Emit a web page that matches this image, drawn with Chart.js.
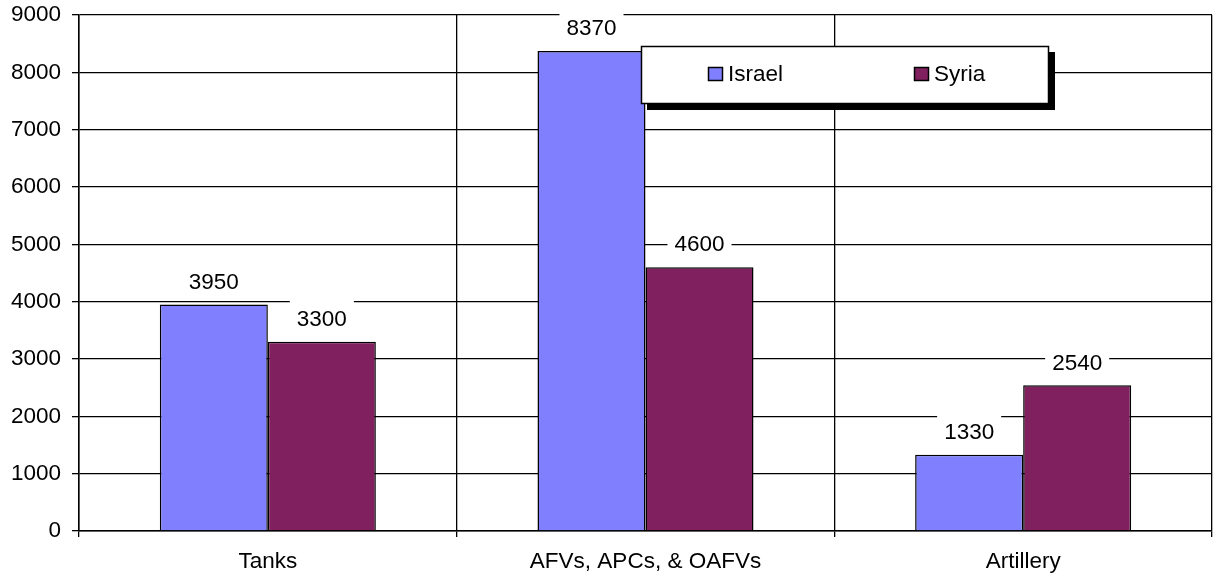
<!DOCTYPE html>
<html>
<head>
<meta charset="utf-8">
<script src="https://cdn.jsdelivr.net/npm/chart.js@4.4.0/dist/chart.umd.min.js"></script>
<style>
  html, body { margin: 0; padding: 0; background: #fff; }
  #wrap { width: 1213px; height: 575px; }
</style>
</head>
<body>
<div id="wrap"><canvas id="equipChart" width="1213" height="575"></canvas></div>
<script>
// 装備数の比較データ
const categories = ['Tanks', 'AFVs, APCs, & OAFVs', 'Artillery'];
const seriesNames = ['Israel', 'Syria'];
const israelValues = [3950, 8370, 1330];
const syriaValues = [3300, 4600, 2540];
const yTicks = [0, 1000, 2000, 3000, 4000, 5000, 6000, 7000, 8000, 9000];

const seriesColors = ['#8080ff', '#80205f'];
const FONT = '"Liberation Sans", Arial, sans-serif';
const FONT_SIZE = 22.5;

Chart.defaults.font.family = FONT;
Chart.defaults.font.size = FONT_SIZE;
Chart.defaults.color = '#000';

// 棒の上に値ラベルを描く（白い背景でグリッド線を隠す）
const valueLabelPlugin = {
  id: 'valueLabels',
  afterDatasetsDraw(chart) {
    const ctx = chart.ctx;
    ctx.save();
    ctx.font = FONT_SIZE + 'px ' + FONT;
    ctx.textAlign = 'center';
    ctx.textBaseline = 'middle';
    chart.data.datasets.forEach((ds, i) => {
      chart.getDatasetMeta(i).data.forEach((bar, j) => {
        const text = String(ds.data[j]);
        const w = ctx.measureText(text).width + 14;
        const cy = bar.y - 23;
        ctx.fillStyle = '#fff';
        ctx.fillRect(bar.x - w / 2, cy - 18, w, 31);
        ctx.fillStyle = '#000';
        ctx.fillText(text, bar.x, cy + 1);
      });
    });
    ctx.restore();
  }
};

// 影付きの凡例ボックス
const legendBoxPlugin = {
  id: 'legendBox',
  afterDraw(chart) {
    const ctx = chart.ctx;
    const x = 641, y = 46, w = 408, h = 58;
    ctx.save();
    ctx.fillStyle = '#000';
    ctx.fillRect(x + 6, y + 6, w, h);
    ctx.fillStyle = '#fff';
    ctx.fillRect(x, y, w, h);
    ctx.strokeStyle = '#000';
    ctx.lineWidth = 1.5;
    ctx.strokeRect(x + 0.5, y + 0.5, w - 1, h - 1);

    ctx.font = FONT_SIZE + 'px ' + FONT;
    ctx.textAlign = 'left';
    ctx.textBaseline = 'middle';
    const itemX = [x + 67, x + 273];
    chart.data.datasets.forEach((ds, i) => {
      const bx = itemX[i];
      ctx.fillStyle = ds.backgroundColor;
      ctx.fillRect(bx, y + 21, 15, 14);
      ctx.strokeStyle = '#000';
      ctx.strokeRect(bx + 0.5, y + 21.5, 14, 13);
      ctx.fillStyle = '#000';
      ctx.fillText(ds.label, bx + 20, y + 29);
    });
    ctx.restore();
  }
};

function drawChart() {
  const ctx = document.getElementById('equipChart').getContext('2d');
  new Chart(ctx, {
    type: 'bar',
    data: {
      labels: categories,
      datasets: [
        {
          label: seriesNames[0],
          data: israelValues,
          backgroundColor: seriesColors[0],
          borderColor: '#000',
          borderWidth: 1.5,
        },
        {
          label: seriesNames[1],
          data: syriaValues,
          backgroundColor: seriesColors[1],
          borderColor: '#000',
          borderWidth: 1.5,
        },
      ],
    },
    options: {
      responsive: false,
      animation: false,
      devicePixelRatio: 1,
      layout: { padding: { top: 15, right: 1, left: 0, bottom: 0 } },
      datasets: {
        bar: { categoryPercentage: 0.572, barPercentage: 1 },
      },
      plugins: {
        legend: { display: false },
        tooltip: { enabled: false },
      },
      scales: {
        x: {
          grid: {
            offset: true,
            color: (c) => (c.index === categories.length ? '#d0d0d0' : '#000'),
            lineWidth: 1.3,
            tickLength: 6,
          },
          border: { color: '#000', width: 1.5 },
          ticks: { color: '#000', padding: 11 },
          afterFit(scale) { scale.height = 44; },
        },
        y: {
          min: 0,
          max: 9000,
          afterBuildTicks(scale) {
            scale.ticks = yTicks.map((v) => ({ value: v }));
          },
          grid: { color: '#000', lineWidth: 1.3, tickLength: 7 },
          border: { color: '#000', width: 1.5 },
          ticks: {
            color: '#000',
            padding: 11,
            font: { size: FONT_SIZE, lineHeight: 0.3 },
            callback: (v) => String(v),
          },
          afterFit(scale) { scale.width = 79; },
        },
      },
    },
    plugins: [valueLabelPlugin, legendBoxPlugin],
  });
}

document.addEventListener('DOMContentLoaded', () => {
  drawChart();
});
</script>
</body>
</html>
